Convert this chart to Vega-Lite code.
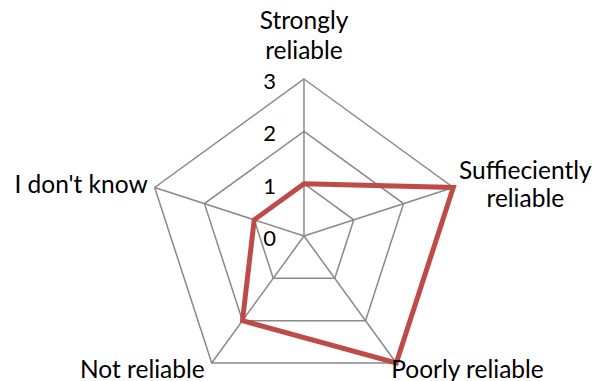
{
  "$schema": "https://vega.github.io/schema/vega-lite/v6.json",
  "width": 595,
  "height": 381,
  "padding": 0,
  "autosize": {"type": "none"},
  "background": "white",
  "config": {"view": {"stroke": null}, "text": {"font": "Lato", "color": "#000000"}},
  "datasets": {
    "scores": [
      {"category": "Strongly reliable", "label": "Strongly\nreliable", "idx": 0, "value": 1},
      {"category": "Suffieciently reliable", "label": "Suffieciently\nreliable", "idx": 1, "value": 3},
      {"category": "Poorly reliable", "label": "Poorly reliable", "idx": 2, "value": 3},
      {"category": "Not reliable", "label": "Not reliable", "idx": 3, "value": 2},
      {"category": "I don't know", "label": "I don't know", "idx": 4, "value": 1}
    ],
    "grid": [
      {"level": 1, "idx": 0}, {"level": 1, "idx": 1}, {"level": 1, "idx": 2}, {"level": 1, "idx": 3}, {"level": 1, "idx": 4},
      {"level": 2, "idx": 0}, {"level": 2, "idx": 1}, {"level": 2, "idx": 2}, {"level": 2, "idx": 3}, {"level": 2, "idx": 4},
      {"level": 3, "idx": 0}, {"level": 3, "idx": 1}, {"level": 3, "idx": 2}, {"level": 3, "idx": 3}, {"level": 3, "idx": 4}
    ],
    "ticks": [{"tick": 0}, {"tick": 1}, {"tick": 2}, {"tick": 3}]
  },
  "layer": [
    {
      "data": {"name": "grid"},
      "transform": [
        {"calculate": "datum.idx*2*PI/5", "as": "a"},
        {"calculate": "datum.level*sin(datum.a)", "as": "px"},
        {"calculate": "datum.level*cos(datum.a)", "as": "py"}
      ],
      "mark": {"type": "line", "interpolate": "linear-closed", "color": "#898989", "strokeWidth": 1.5},
      "encoding": {
        "x": {"field": "px", "type": "quantitative", "scale": {"domain": [-5.809, 5.561], "nice": false, "zero": false}, "axis": null},
        "y": {"field": "py", "type": "quantitative", "scale": {"domain": [-2.771, 4.51], "nice": false, "zero": false}, "axis": null},
        "detail": {"field": "level"},
        "order": {"field": "idx"}
      }
    },
    {
      "data": {"name": "scores"},
      "transform": [
        {"calculate": "datum.idx*2*PI/5", "as": "a"},
        {"calculate": "3*sin(datum.a)", "as": "px"},
        {"calculate": "3*cos(datum.a)", "as": "py"}
      ],
      "mark": {"type": "rule", "color": "#898989", "strokeWidth": 1.5},
      "encoding": {
        "x": {"field": "px", "type": "quantitative"},
        "y": {"field": "py", "type": "quantitative"},
        "x2": {"datum": 0},
        "y2": {"datum": 0}
      }
    },
    {
      "data": {"name": "scores"},
      "transform": [
        {"calculate": "datum.idx*2*PI/5", "as": "a"},
        {"calculate": "datum.value*sin(datum.a)", "as": "px"},
        {"calculate": "datum.value*cos(datum.a)", "as": "py"}
      ],
      "mark": {"type": "line", "interpolate": "linear-closed", "color": "#BE4B48", "strokeWidth": 5, "strokeJoin": "miter"},
      "encoding": {
        "x": {"field": "px", "type": "quantitative"},
        "y": {"field": "py", "type": "quantitative"},
        "order": {"field": "idx"}
      }
    },
    {
      "data": {"name": "ticks"},
      "mark": {"type": "text", "align": "right", "baseline": "middle", "dx": -28, "dy": 3, "fontSize": 22},
      "encoding": {
        "x": {"datum": 0, "type": "quantitative"},
        "y": {"field": "tick", "type": "quantitative"},
        "text": {"field": "tick"}
      }
    },
    {
      "data": {"name": "scores"},
      "transform": [
        {"filter": "datum.idx == 0"},
        {"calculate": "3*sin(datum.idx*2*PI/5)", "as": "px"},
        {"calculate": "3*cos(datum.idx*2*PI/5)", "as": "py"}
      ],
      "mark": {"type": "text", "align": "center", "baseline": "middle", "dy": -57, "lineBreak": "\n", "lineHeight": 30, "fontSize": 24.5},
      "encoding": {
        "x": {"field": "px", "type": "quantitative"},
        "y": {"field": "py", "type": "quantitative"},
        "text": {"field": "label"}
      }
    },
    {
      "data": {"name": "scores"},
      "transform": [
        {"filter": "datum.idx == 1"},
        {"calculate": "3*sin(datum.idx*2*PI/5)", "as": "px"},
        {"calculate": "3*cos(datum.idx*2*PI/5)", "as": "py"}
      ],
      "mark": {"type": "text", "align": "center", "baseline": "middle", "dx": 72, "dy": -15, "lineBreak": "\n", "lineHeight": 28, "fontSize": 24.5},
      "encoding": {
        "x": {"field": "px", "type": "quantitative"},
        "y": {"field": "py", "type": "quantitative"},
        "text": {"field": "label"}
      }
    },
    {
      "data": {"name": "scores"},
      "transform": [
        {"filter": "datum.idx == 2"},
        {"calculate": "3*sin(datum.idx*2*PI/5)", "as": "px"},
        {"calculate": "3*cos(datum.idx*2*PI/5)", "as": "py"}
      ],
      "mark": {"type": "text", "align": "left", "baseline": "middle", "dx": -5, "dy": 8, "fontSize": 24.5},
      "encoding": {
        "x": {"field": "px", "type": "quantitative"},
        "y": {"field": "py", "type": "quantitative"},
        "text": {"field": "label"}
      }
    },
    {
      "data": {"name": "scores"},
      "transform": [
        {"filter": "datum.idx == 3"},
        {"calculate": "3*sin(datum.idx*2*PI/5)", "as": "px"},
        {"calculate": "3*cos(datum.idx*2*PI/5)", "as": "py"}
      ],
      "mark": {"type": "text", "align": "right", "baseline": "middle", "dx": -7, "dy": 8, "fontSize": 24.5},
      "encoding": {
        "x": {"field": "px", "type": "quantitative"},
        "y": {"field": "py", "type": "quantitative"},
        "text": {"field": "label"}
      }
    },
    {
      "data": {"name": "scores"},
      "transform": [
        {"filter": "datum.idx == 4"},
        {"calculate": "3*sin(datum.idx*2*PI/5)", "as": "px"},
        {"calculate": "3*cos(datum.idx*2*PI/5)", "as": "py"}
      ],
      "mark": {"type": "text", "align": "right", "baseline": "middle", "dx": -7, "dy": -1, "fontSize": 24.5},
      "encoding": {
        "x": {"field": "px", "type": "quantitative"},
        "y": {"field": "py", "type": "quantitative"},
        "text": {"field": "label"}
      }
    }
  ]
}
